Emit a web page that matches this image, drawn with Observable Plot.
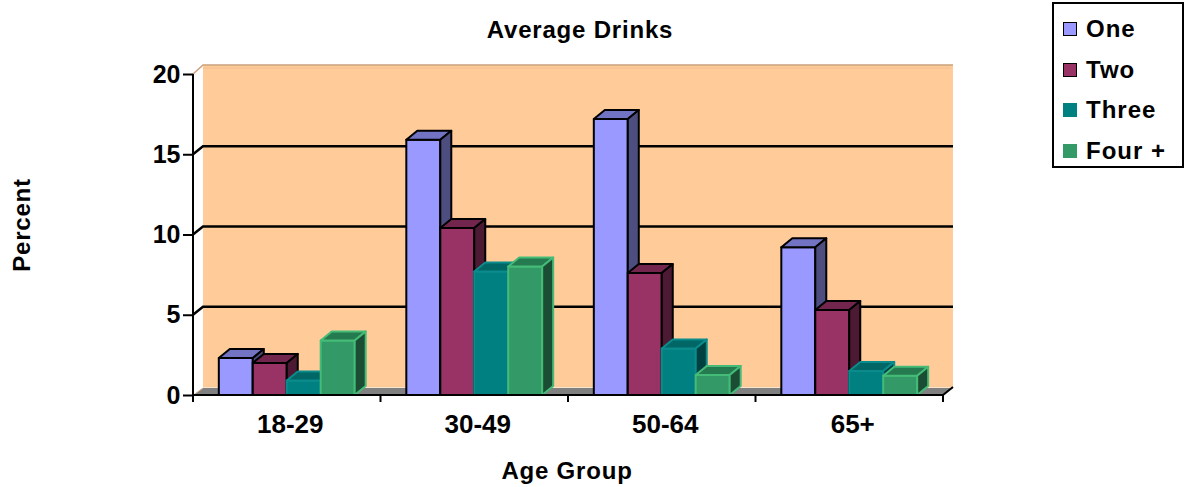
<!DOCTYPE html>
<html>
<head>
<meta charset="utf-8">
<script src="https://cdn.jsdelivr.net/npm/d3@7"></script>
<script src="https://cdn.jsdelivr.net/npm/@observablehq/plot@0.6"></script>
<style>
  html, body { margin: 0; padding: 0; background: #fff; }
  #chart { position: relative; width: 1186px; height: 487px; font-family: "Liberation Sans", Arial, sans-serif; font-weight: bold; color: #000; }
  #chart svg { position: absolute; left: 0; top: 0; }
  .lbl { position: absolute; font-size: 24px; line-height: 1; white-space: nowrap; letter-spacing: 0.8px; }
  #title { left: 580px; top: 30px; transform: translate(-50%, -50%); }
  #xlabel { left: 567px; top: 471px; transform: translate(-50%, -50%); }
  #ylabel { left: 22px; top: 225px; transform: translate(-50%, -50%) rotate(-90deg); }
  #legend { position: absolute; left: 1052px; top: 2px; width: 128px; height: 162px; border: 2px solid #000; background: #fff; }
  .item { position: absolute; left: 9px; height: 26px; display: flex; align-items: center; font-size: 24px; letter-spacing: 1px; }
  .sw { width: 14px; height: 14px; margin-right: 9px; box-sizing: border-box; }
</style>
</head>
<body>
<div id="chart">
  <div id="title" class="lbl">Average Drinks</div>
  <div id="xlabel" class="lbl">Age Group</div>
  <div id="ylabel" class="lbl">Percent</div>
  <div id="legend"></div>
</div>
<script>
// Age groups and drink-count series
const groups = ["18-29", "30-49", "50-64", "65+"];
const series = ["One", "Two", "Three", "Four +"];

// Percent of respondents, per age group
const one   = [2.3, 15.9, 17.2, 9.2];
const two   = [2.0, 10.4, 7.6, 5.3];
const three = [0.9, 7.7, 2.9, 1.5];
const four  = [3.4, 8.0, 1.25, 1.2];

const yTicks = [0, 5, 10, 15, 20];

// Face colours: front, top, side, outline
const fronts  = ["#9999ff", "#993366", "#008080", "#339966"];
const tops    = ["#7373c4", "#73264d", "#006666", "#267a50"];
const sides   = ["#4d4d80", "#4d1a33", "#004040", "#1a4d33"];
const strokes = ["#000000", "#000000", "#0b8c8c", "#44bb77"];

const values = [one, two, three, four];
const rows = groups.flatMap((g, i) => series.map((s, j) => ({age: g, series: s, value: values[j][i]})));

// Depth of the back wall and of each column
const WALL = {dx: 10, dy: -8};
const COL = {dx: 11, dy: -9};

const chart = Plot.plot({
  width: 1186,
  height: 487,
  marginLeft: 193,
  marginRight: 243,
  marginTop: 74,
  marginBottom: 92,
  style: {fontFamily: "'Liberation Sans', Arial, sans-serif", fontSize: "24px", fontWeight: "bold", color: "#000", overflow: "visible", background: "transparent"},
  fx: {domain: groups, padding: 0, round: false},
  x: {domain: series, paddingInner: 0, paddingOuter: 0.76, axis: null, round: false},
  y: {domain: [0, 20]},
  marks: [
    ...series.map((s, j) => Plot.barY(rows.filter(d => d.series === s), {
      fx: "age", x: "series", y: "value",
      fill: fronts[j], stroke: strokes[j], strokeWidth: 2, strokeLinejoin: "round",
      insetLeft: 0, insetRight: 0
    })),
    Plot.axisY({ticks: yTicks, tickSize: 10, tickPadding: 3, strokeWidth: 2, label: null, fontSize: 25, tickFormat: d => String(d)}),
    Plot.axisFx({anchor: "bottom", tickSize: 0, tickPadding: 19, label: null, dx: 3, fontSize: 26})
  ]
});

document.getElementById("chart").prepend(chart);

// 3D scenery built from the plot's own scales
const ys = chart.scale("y");
const fxs = chart.scale("fx");
const x0 = fxs.apply(groups[0]);
const x1 = fxs.apply(groups[groups.length - 1]) + fxs.bandwidth;
const y0 = ys.apply(0);
const yTop = ys.apply(20);

const ns = "http://www.w3.org/2000/svg";
const back = d3.create("svg:g").attr("aria-label", "walls");
// back wall
back.append("rect")
  .attr("x", x0 + WALL.dx).attr("y", yTop + WALL.dy - 1)
  .attr("width", x1 - x0).attr("height", y0 - yTop + 1)
  .attr("fill", "#ffcc99");
back.append("path")
  .attr("d", `M${x0},${yTop}L${x0 + WALL.dx},${yTop + WALL.dy - 1}L${x1 + WALL.dx},${yTop + WALL.dy - 1}`)
  .attr("fill", "none").attr("stroke", "#c9a27c").attr("stroke-width", 1.5);
back.append("line")
  .attr("x1", x0 + WALL.dx).attr("x2", x1 + WALL.dx - 2)
  .attr("y1", yTop + WALL.dy + 2).attr("y2", yTop + WALL.dy + 2)
  .attr("stroke", "#f2bf8f").attr("stroke-width", 1);
// floor
back.append("path")
  .attr("d", `M${x0},${y0}L${x1},${y0}L${x1 + WALL.dx},${y0 + WALL.dy + 1}L${x0 + WALL.dx},${y0 + WALL.dy + 1}Z`)
  .attr("fill", "#808080");
back.append("line")
  .attr("x1", x0 + WALL.dx).attr("x2", x1 + WALL.dx)
  .attr("y1", y0 + WALL.dy).attr("y2", y0 + WALL.dy)
  .attr("stroke", "#f5c999").attr("stroke-width", 1);
back.append("line")
  .attr("x1", x0 + 2).attr("y1", y0 - 1).attr("x2", x0 + WALL.dx).attr("y2", y0 + WALL.dy + 1)
  .attr("stroke", "#d9ad85").attr("stroke-width", 1);
// gridlines on the back wall with their slanted lead-ins
for (const v of yTicks.filter(v => v > 0 && v < 20)) {
  const yy = ys.apply(v);
  back.append("path")
    .attr("d", `M${x0},${yy}L${x0 + WALL.dx},${yy + WALL.dy}L${x1 + WALL.dx},${yy + WALL.dy}`)
    .attr("fill", "none").attr("stroke", "#000").attr("stroke-width", 2.5);
}

let firstBar = chart.querySelector('g[aria-label="bar"]');
let anchor = firstBar;
while (anchor.parentNode !== chart) anchor = anchor.parentNode;
chart.insertBefore(back.node(), anchor);

// top and side faces of every column, matched to its series by front colour
const frontRgb = fronts.map(c => d3.color(c).formatRgb());
chart.querySelectorAll('g[aria-label="bar"] rect').forEach(rect => {
  const j = frontRgb.indexOf(d3.color(getComputedStyle(rect).fill).formatRgb());
  if (j < 0) return;
  const x = +rect.getAttribute("x"), y = +rect.getAttribute("y");
  const w = +rect.getAttribute("width"), h = +rect.getAttribute("height");
  const parent = rect.parentNode;
  const topFace = document.createElementNS(ns, "path");
  topFace.setAttribute("d", `M${x},${y}L${x + COL.dx},${y + COL.dy}L${x + w + COL.dx},${y + COL.dy}L${x + w},${y}Z`);
  topFace.setAttribute("fill", tops[j]);
  const sideFace = document.createElementNS(ns, "path");
  sideFace.setAttribute("d", `M${x + w},${y}L${x + w + COL.dx},${y + COL.dy}L${x + w + COL.dx},${y + h + COL.dy}L${x + w},${y + h}Z`);
  sideFace.setAttribute("fill", sides[j]);
  parent.insertBefore(topFace, rect.nextSibling);
  parent.insertBefore(sideFace, topFace.nextSibling);
});

// front axis lines and category boundary ticks
const front = d3.create("svg:g").attr("aria-label", "front axes").attr("stroke", "#000").attr("stroke-width", 2).attr("fill", "none");
front.append("path").attr("d", `M${x0},${yTop}L${x0},${y0}L${x1},${y0}L${x1 + WALL.dx},${y0 + WALL.dy}`);
for (const b of [...groups.map(g => fxs.apply(g)), x1]) {
  front.append("line").attr("x1", b).attr("x2", b).attr("y1", y0).attr("y2", y0 + 7);
}
chart.appendChild(front.node());

// legend
const legend = d3.select("#legend");
series.forEach((s, j) => {
  const item = legend.append("div").attr("class", "item").style("top", `${12 + j * 40.7}px`);
  item.append("div").attr("class", "sw")
    .style("background", fronts[j])
    .style("border", j < 2 ? "1.5px solid #000" : "none");
  item.append("span").text(s);
});
</script>
</body>
</html>
